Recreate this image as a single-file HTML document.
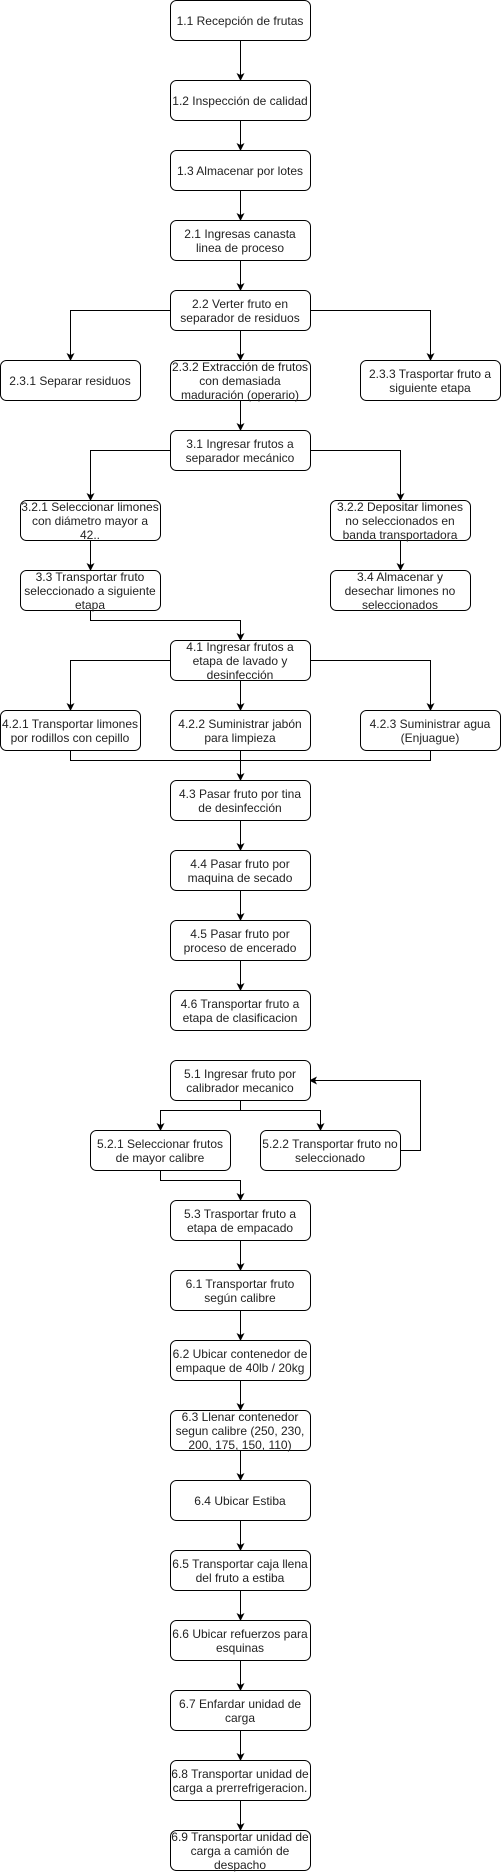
<!DOCTYPE html>
<html><head><meta charset="utf-8"><style>
html,body{margin:0;padding:0;background:#fff;}
svg{display:block;}
text{font-family:"Liberation Sans",sans-serif;font-size:12px;fill:#222;text-anchor:middle;}
rect{fill:#fff;stroke:#000;stroke-width:1;}
path.l{fill:none;stroke:#000;stroke-width:1;}
</style></head><body>
<svg width="501" height="1872" viewBox="0 0 501 1872">
<defs><marker id="a" markerWidth="8" markerHeight="8" refX="7" refY="4" orient="auto" markerUnits="userSpaceOnUse"><path d="M0,0 L8,4 L0,8 L2,4 Z" fill="#000"/></marker></defs>
<g>
<path class="l" marker-end="url(#a)" d="M240.5,40 V80"/>
<path class="l" marker-end="url(#a)" d="M240.5,120 V150"/>
<path class="l" marker-end="url(#a)" d="M240.5,190 V220"/>
<path class="l" marker-end="url(#a)" d="M240.5,260 V290"/>
<path class="l" marker-end="url(#a)" d="M170,310.5 H70.5 V360"/>
<path class="l" marker-end="url(#a)" d="M310,310.5 H430.5 V360"/>
<path class="l" marker-end="url(#a)" d="M240.5,330 V360"/>
<path class="l" marker-end="url(#a)" d="M240.5,400 V430"/>
<path class="l" marker-end="url(#a)" d="M170,450.5 H90.5 V500"/>
<path class="l" marker-end="url(#a)" d="M310,450.5 H400.5 V500"/>
<path class="l" marker-end="url(#a)" d="M90.5,540 V570"/>
<path class="l" marker-end="url(#a)" d="M400.5,540 V570"/>
<path class="l" marker-end="url(#a)" d="M90.5,610 V620.5 H240.5 V640"/>
<path class="l" marker-end="url(#a)" d="M170,660.5 H70.5 V710"/>
<path class="l" marker-end="url(#a)" d="M310,660.5 H430.5 V710"/>
<path class="l" marker-end="url(#a)" d="M240.5,680 V710"/>
<path class="l" d="M70.5,750 V760.5 H430.5 V750"/>
<path class="l" marker-end="url(#a)" d="M240.5,750 V780"/>
<path class="l" marker-end="url(#a)" d="M240.5,820 V850"/>
<path class="l" marker-end="url(#a)" d="M240.5,890 V920"/>
<path class="l" marker-end="url(#a)" d="M240.5,960 V990"/>
<path class="l" marker-end="url(#a)" d="M240.5,1100 V1110.5 H160.5 V1130"/>
<path class="l" marker-end="url(#a)" d="M240.5,1110.5 H320.5 V1130"/>
<path class="l" marker-end="url(#a)" d="M400,1150.5 H420.5 V1080.5 H310"/>
<path class="l" marker-end="url(#a)" d="M160.5,1170 V1180.5 H240.5 V1200"/>
<path class="l" marker-end="url(#a)" d="M240.5,1240 V1270"/>
<path class="l" marker-end="url(#a)" d="M240.5,1310 V1340"/>
<path class="l" marker-end="url(#a)" d="M240.5,1380 V1410"/>
<path class="l" marker-end="url(#a)" d="M240.5,1450 V1480"/>
<path class="l" marker-end="url(#a)" d="M240.5,1520 V1550"/>
<path class="l" marker-end="url(#a)" d="M240.5,1590 V1620"/>
<path class="l" marker-end="url(#a)" d="M240.5,1660 V1690"/>
<path class="l" marker-end="url(#a)" d="M240.5,1730 V1760"/>
<path class="l" marker-end="url(#a)" d="M240.5,1800 V1830"/>
</g>
<g>
<rect x="170.5" y="0.5" width="140" height="40" rx="6"/><text x="240" y="25">1.1 Recepción de frutas</text>
<rect x="170.5" y="80.5" width="140" height="40" rx="6"/><text x="240" y="105">1.2 Inspección de calidad</text>
<rect x="170.5" y="150.5" width="140" height="40" rx="6"/><text x="240" y="175">1.3 Almacenar por lotes</text>
<rect x="170.5" y="220.5" width="140" height="40" rx="6"/><text x="240" y="238">2.1 Ingresas canasta</text><text x="240" y="252">linea de proceso</text>
<rect x="170.5" y="290.5" width="140" height="40" rx="6"/><text x="240" y="308">2.2 Verter fruto en</text><text x="240" y="322">separador de residuos</text>
<rect x="0.5" y="360.5" width="140" height="40" rx="6"/><text x="70" y="385">2.3.1 Separar residuos</text>
<rect x="170.5" y="360.5" width="140" height="40" rx="6"/><text x="240" y="371">2.3.2 Extracción de frutos</text><text x="240" y="385">con demasiada</text><text x="240" y="399">maduración (operario)</text>
<rect x="360.5" y="360.5" width="140" height="40" rx="6"/><text x="430" y="378">2.3.3 Trasportar fruto a</text><text x="430" y="392">siguiente etapa</text>
<rect x="170.5" y="430.5" width="140" height="40" rx="6"/><text x="240" y="448">3.1 Ingresar frutos a</text><text x="240" y="462">separador mecánico</text>
<rect x="20.5" y="500.5" width="140" height="40" rx="6"/><text x="90" y="511">3.2.1 Seleccionar limones</text><text x="90" y="525">con diámetro mayor a</text><text x="90" y="539">42..</text>
<rect x="330.5" y="500.5" width="140" height="40" rx="6"/><text x="400" y="511">3.2.2 Depositar limones</text><text x="400" y="525">no seleccionados en</text><text x="400" y="539">banda transportadora</text>
<rect x="20.5" y="570.5" width="140" height="40" rx="6"/><text x="90" y="581">3.3 Transportar fruto</text><text x="90" y="595">seleccionado a siguiente</text><text x="90" y="609">etapa</text>
<rect x="330.5" y="570.5" width="140" height="40" rx="6"/><text x="400" y="581">3.4 Almacenar y</text><text x="400" y="595">desechar limones no</text><text x="400" y="609">seleccionados</text>
<rect x="170.5" y="640.5" width="140" height="40" rx="6"/><text x="240" y="651">4.1 Ingresar frutos a</text><text x="240" y="665">etapa de lavado y</text><text x="240" y="679">desinfección</text>
<rect x="0.5" y="710.5" width="140" height="40" rx="6"/><text x="70" y="728">4.2.1 Transportar limones</text><text x="70" y="742">por rodillos con cepillo</text>
<rect x="170.5" y="710.5" width="140" height="40" rx="6"/><text x="240" y="728">4.2.2 Suministrar jabón</text><text x="240" y="742">para limpieza</text>
<rect x="360.5" y="710.5" width="140" height="40" rx="6"/><text x="430" y="728">4.2.3 Suministrar agua</text><text x="430" y="742">(Enjuague)</text>
<rect x="170.5" y="780.5" width="140" height="40" rx="6"/><text x="240" y="798">4.3 Pasar fruto por tina</text><text x="240" y="812">de desinfección</text>
<rect x="170.5" y="850.5" width="140" height="40" rx="6"/><text x="240" y="868">4.4 Pasar fruto por</text><text x="240" y="882">maquina de secado</text>
<rect x="170.5" y="920.5" width="140" height="40" rx="6"/><text x="240" y="938">4.5 Pasar fruto por</text><text x="240" y="952">proceso de encerado</text>
<rect x="170.5" y="990.5" width="140" height="40" rx="6"/><text x="240" y="1008">4.6 Transportar fruto a</text><text x="240" y="1022">etapa de clasificacion</text>
<rect x="170.5" y="1060.5" width="140" height="40" rx="6"/><text x="240" y="1078">5.1 Ingresar fruto por</text><text x="240" y="1092">calibrador mecanico</text>
<rect x="90.5" y="1130.5" width="140" height="40" rx="6"/><text x="160" y="1148">5.2.1 Seleccionar frutos</text><text x="160" y="1162">de mayor calibre</text>
<rect x="260.5" y="1130.5" width="140" height="40" rx="6"/><text x="330" y="1148">5.2.2 Transportar fruto no</text><text x="330" y="1162">seleccionado</text>
<rect x="170.5" y="1200.5" width="140" height="40" rx="6"/><text x="240" y="1218">5.3 Trasportar fruto a</text><text x="240" y="1232">etapa de empacado</text>
<rect x="170.5" y="1270.5" width="140" height="40" rx="6"/><text x="240" y="1288">6.1 Transportar fruto</text><text x="240" y="1302">según calibre</text>
<rect x="170.5" y="1340.5" width="140" height="40" rx="6"/><text x="240" y="1358">6.2 Ubicar contenedor de</text><text x="240" y="1372">empaque de 40lb / 20kg</text>
<rect x="170.5" y="1410.5" width="140" height="40" rx="6"/><text x="240" y="1421">6.3 Llenar contenedor</text><text x="240" y="1435">segun calibre (250, 230,</text><text x="240" y="1449">200, 175, 150, 110)</text>
<rect x="170.5" y="1480.5" width="140" height="40" rx="6"/><text x="240" y="1505">6.4 Ubicar Estiba</text>
<rect x="170.5" y="1550.5" width="140" height="40" rx="6"/><text x="240" y="1568">6.5 Transportar caja llena</text><text x="240" y="1582">del fruto a estiba</text>
<rect x="170.5" y="1620.5" width="140" height="40" rx="6"/><text x="240" y="1638">6.6 Ubicar refuerzos para</text><text x="240" y="1652">esquinas</text>
<rect x="170.5" y="1690.5" width="140" height="40" rx="6"/><text x="240" y="1708">6.7 Enfardar unidad de</text><text x="240" y="1722">carga</text>
<rect x="170.5" y="1760.5" width="140" height="40" rx="6"/><text x="240" y="1778">6.8 Transportar unidad de</text><text x="240" y="1792">carga a prerrefrigeracion.</text>
<rect x="170.5" y="1830.5" width="140" height="40" rx="6"/><text x="240" y="1841">6.9 Transportar unidad de</text><text x="240" y="1855">carga a camión de</text><text x="240" y="1869">despacho</text>
</g>
</svg>
</body></html>
